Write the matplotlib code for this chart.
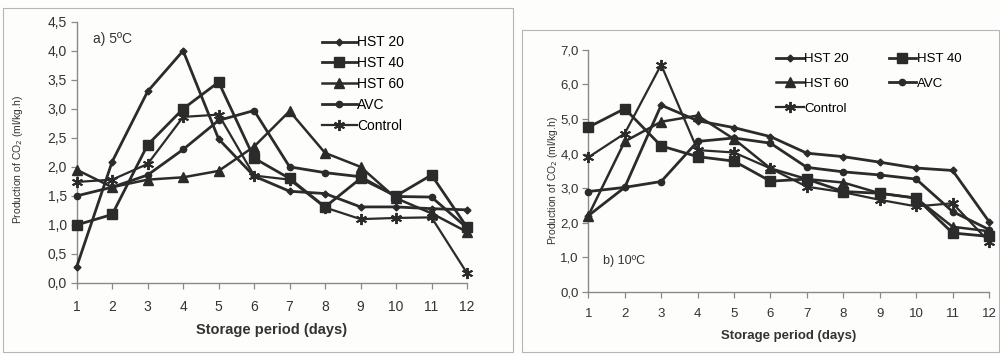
import matplotlib
matplotlib.use("Agg")
import matplotlib.pyplot as plt
from matplotlib.ticker import FuncFormatter
from matplotlib.patches import Rectangle

days = list(range(1, 13))
series_names = ["HST 20", "HST 40", "HST 60", "AVC", "Control"]

# a) 5 ºC
a_hst20 = [0.28, 2.09, 3.30, 4.00, 2.48, 1.84, 1.58, 1.54, 1.31, 1.31, 1.28, 1.26]
a_hst40 = [1.00, 1.18, 2.38, 3.00, 3.46, 2.15, 1.80, 1.31, 1.80, 1.50, 1.86, 0.96]
a_hst60 = [1.95, 1.65, 1.78, 1.82, 1.93, 2.35, 2.96, 2.24, 2.00, 1.46, 1.20, 0.88]
a_avc = [1.50, 1.65, 1.86, 2.30, 2.80, 2.97, 2.00, 1.90, 1.83, 1.49, 1.48, 0.95]
a_control = [1.74, 1.78, 2.05, 2.86, 2.90, 1.85, 1.78, 1.30, 1.10, 1.12, 1.13, 0.17]

# b) 10 ºC
b_hst20 = [2.20, 3.02, 5.40, 4.95, 4.75, 4.49, 4.01, 3.91, 3.75, 3.58, 3.51, 2.03]
b_hst40 = [4.76, 5.30, 4.22, 3.91, 3.78, 3.20, 3.26, 2.90, 2.85, 2.71, 1.70, 1.60]
b_hst60 = [2.20, 4.35, 4.92, 5.10, 4.42, 3.57, 3.26, 3.16, 2.85, 2.71, 1.88, 1.75]
b_avc = [2.90, 3.02, 3.19, 4.35, 4.45, 4.30, 3.60, 3.47, 3.38, 3.26, 2.32, 1.80]
b_control = [3.89, 4.58, 6.57, 4.10, 4.03, 3.57, 3.04, 2.88, 2.66, 2.47, 2.56, 1.45]

a_yticks = [0.0, 0.5, 1.0, 1.5, 2.0, 2.5, 3.0, 3.5, 4.0, 4.5]
b_yticks = [0.0, 1.0, 2.0, 3.0, 4.0, 5.0, 6.0, 7.0]

LINE = "#2b2b2b"
GRAY = "#8a8a8a"
TXT = "#333333"
plt.rcParams['font.family'] = ['Liberation Sans', 'DejaVu Sans']

markers = {
    "HST 20": dict(marker="D", ms=3.5, lw=2.0),
    "HST 40": dict(marker="s", ms=6.5, lw=2.0),
    "HST 60": dict(marker="^", ms=6.5, lw=1.8),
    "AVC": dict(marker="o", ms=4.5, lw=2.0),
    "Control": dict(marker=(6, 2, 0), ms=8, lw=1.6, mew=1.4),
}

fig = plt.figure(figsize=(10, 3.54), dpi=100)
fig.patch.set_facecolor("#fdfdfb")

# panel borders
fig.patches.append(Rectangle((0.003, 0.006), 0.510, 0.972, transform=fig.transFigure,
                             fill=False, ec="#b5b5b5", lw=0.8))
fig.patches.append(Rectangle((0.522, 0.006), 0.477, 0.909, transform=fig.transFigure,
                             fill=False, ec="#b5b5b5", lw=0.8))

comma = FuncFormatter(lambda v, p: f"{v:.1f}".replace(".", ","))


def style(ax, ymax, yticks, fs):
    ax.set_facecolor("none")
    ax.set_xlim(1, 12)
    ax.set_ylim(0, ymax)
    ax.set_xticks(days)
    ax.set_yticks(yticks)
    ax.yaxis.set_major_formatter(comma)
    for s in ["top", "right"]:
        ax.spines[s].set_visible(False)
    for s in ["left", "bottom"]:
        ax.spines[s].set_color(GRAY)
        ax.spines[s].set_linewidth(1.0)
    ax.tick_params(axis="both", colors=GRAY, labelcolor=TXT, labelsize=fs,
                   direction="out", length=4, width=0.9)
    ax.tick_params(axis="x", pad=8)
    ax.tick_params(axis="y", pad=3)


def draw(ax, data):
    handles = {}
    for name, vals in zip(series_names, data):
        kw = markers[name]
        h, = ax.plot(days, vals, color=LINE, mfc=LINE, mec=LINE, clip_on=False,
                     zorder=3, **kw)
        handles[name] = h
    return handles


ax1 = fig.add_axes([0.0767, 0.2006, 0.3903, 0.7381])
style(ax1, 4.5, a_yticks, 10)
h1 = draw(ax1, [a_hst20, a_hst40, a_hst60, a_avc, a_control])
ax1.text(1.45, 4.2, "a) 5ºC", fontsize=10, color=TXT, va="center")
ax1.set_xlabel("Storage period (days)", fontsize=10.5, fontweight="bold", color=TXT, labelpad=7)
fig.text(0.018, 0.55, "Production of CO$_2$ (ml/kg.h)", rotation=90, fontsize=7.5,
         color=TXT, ha="center", va="center")
ax1.legend([h1[n] for n in series_names], series_names, loc="upper left",
           bbox_to_anchor=(0.322, 0.9), bbox_transform=fig.transFigure,
           frameon=False, fontsize=10, handlelength=2.5, handletextpad=0.05,
           labelspacing=0.5, borderpad=0, borderaxespad=0)

ax2 = fig.add_axes([0.5883, 0.176, 0.4007, 0.683])
style(ax2, 7.0, b_yticks, 9.5)
h2 = draw(ax2, [b_hst20, b_hst40, b_hst60, b_avc, b_control])
ax2.text(1.4, 0.9, "b) 10ºC", fontsize=9, color=TXT, va="center")
ax2.set_xlabel("Storage period (days)", fontsize=9.5, fontweight="bold", color=TXT, labelpad=7)
fig.text(0.553, 0.49, "Production of CO$_2$ (ml/kg.h)", rotation=90, fontsize=7.5,
         color=TXT, ha="center", va="center")
order = ["HST 20", "HST 60", "Control", "HST 40", "AVC"]
ax2.legend([h2[n] for n in order], order, loc="upper left", ncol=2,
           bbox_to_anchor=(0.776, 0.85), bbox_transform=fig.transFigure,
           frameon=False, fontsize=9.5, handlelength=2.1, handletextpad=0.05,
           labelspacing=0.95, columnspacing=3.0, borderpad=0, borderaxespad=0)

fig.savefig("out.png", dpi=100, facecolor=fig.get_facecolor())
